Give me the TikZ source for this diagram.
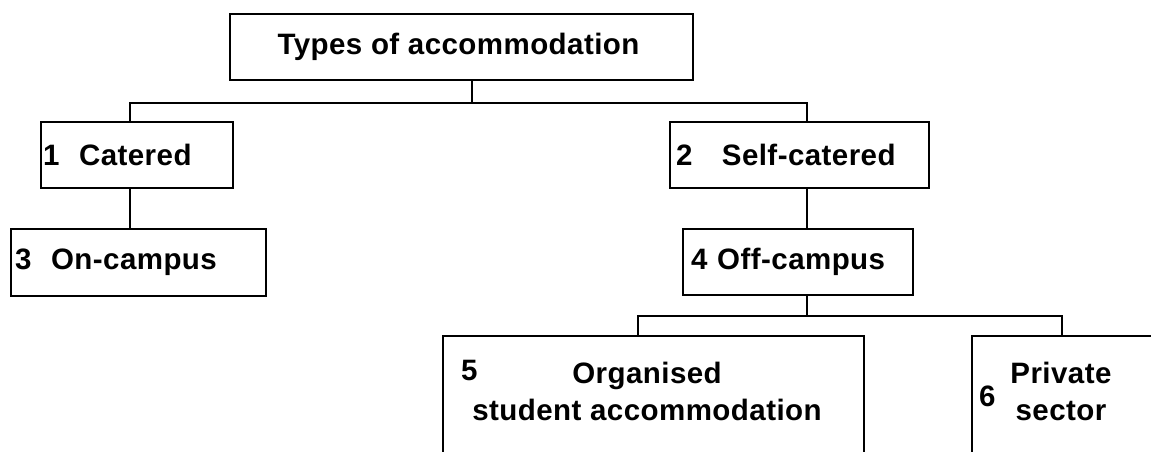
\documentclass[tikz,border=0pt]{standalone}
\usepackage{fontspec}
\setmainfont{Liberation Sans}[LetterSpace=1.5]
\begin{document}
\begin{tikzpicture}[x=1pt,y=-1pt,
  box/.style={draw=black, line width=1.6pt, rectangle, inner ysep=0pt, outer sep=0pt,
    font=\fontsize{29.5}{37}\selectfont\bfseries},
  lbl/.style={inner sep=0pt, font=\fontsize{29.5}{37}\selectfont\bfseries},
  link/.style={draw=black, line width=1.6pt}]
\useasboundingbox (0,0) rectangle (1151,451);
\clip (0,0) rectangle (1151,451);
\fill[white] (0,0) rectangle (1151,451);

\node[box, minimum width=463pt, minimum height=66pt, align=center] (top) at (461.5,47) {Types of accommodation\hspace*{6pt}};
\node[box, minimum width=192pt, minimum height=66pt, text width=188pt, inner xsep=2pt, align=left] (c1) at (137,155) {1\ \ Catered};
\node[box, minimum width=255pt, minimum height=67pt, text width=247pt, inner xsep=4pt, align=left] (c3) at (138.5,262.5) {3\ \ On-campus};
\node[box, minimum width=259pt, minimum height=66pt, text width=247pt, inner xsep=6pt, align=left] (c2) at (799.5,155) {2\ \ \ Self-catered};
\node[box, minimum width=230pt, minimum height=66pt, text width=214pt, inner xsep=8pt, align=left] (c4) at (798,262) {4 Off-campus};
\node[box, minimum width=421pt, minimum height=150pt, anchor=north west] (c5) at (443,336) {};
\node[box, minimum width=228pt, minimum height=150pt, anchor=north west] (c6) at (972,336) {};

\node[lbl, anchor=west] (n5) at (461,370) {5};
\node[lbl, align=center] (t5) at (647,391.5) {Organised\\student accommodation};
\node[lbl, anchor=west] (n6) at (979,396) {6};
\node[lbl, align=center] (t6) at (1061,391.5) {Private\\sector};

\draw[link] ([xshift=10.5pt]top.south) -- ++(0,23);
\draw[link] ([xshift=-7pt]c1.north) -- ++(0,-19) -| ([xshift=7.5pt]c2.north);
\draw[link] ([xshift=-7pt]c1.south) -- ([xshift=-8.5pt]c3.north);
\draw[link] ([xshift=7.5pt]c2.south) -- ([xshift=9pt]c4.north);
\draw[link] ([xshift=9pt]c4.south) -- ++(0,21);
\draw[link] ([xshift=-15.5pt]c5.north) -- ++(0,-20) -| ([xshift=-24pt]c6.north);
\end{tikzpicture}
\end{document}
